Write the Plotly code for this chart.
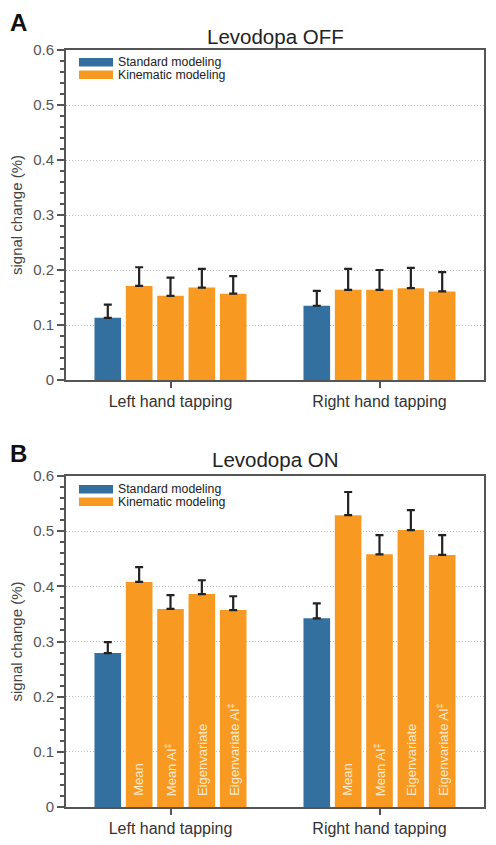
import plotly.graph_objects as go

groups = ["Left hand tapping", "Right hand tapping"]
series_names = ["Standard modeling", "Mean", "Mean AI‡", "Eigenvariate", "Eigenvariate AI‡"]
bar_labels = ["", "Mean", "Mean AI<sup>‡</sup>", "Eigenvariate", "Eigenvariate AI<sup>‡</sup>"]

# Levodopa OFF: values and upper error (top of whisker) per series, [left, right]
off_vals = [[0.113, 0.135], [0.171, 0.164], [0.153, 0.164], [0.168, 0.167], [0.157, 0.161]]
off_tops = [[0.137, 0.162], [0.205, 0.202], [0.186, 0.200], [0.202, 0.204], [0.189, 0.196]]
# Levodopa ON
on_vals = [[0.279, 0.342], [0.408, 0.529], [0.359, 0.458], [0.386, 0.502], [0.357, 0.457]]
on_tops = [[0.299, 0.369], [0.435, 0.571], [0.384, 0.493], [0.411, 0.538], [0.382, 0.493]]

titles = ["Levodopa OFF", "Levodopa ON"]
panel_letters = ["A", "B"]
yticks = [0, 0.1, 0.2, 0.3, 0.4, 0.5, 0.6]

BLUE = "#33709f"
ORANGE = "#f89a22"
OFF = 8  # page body margin
W, H = 496 - OFF, 845 - OFF
FONT = "Liberation Sans, Arial, Helvetica, sans-serif"

def px(x):
    return (x - OFF) / W

def py(y):
    return 1 - (y - OFF) / H

fig = go.Figure()
xpos = list(range(len(groups)))

panels = [(off_vals, off_tops, "x", "y"), (on_vals, on_tops, "x2", "y2")]
for p, (vals, tops, xa, ya) in enumerate(panels):
    for k in range(len(series_names)):
        color = BLUE if k == 0 else ORANGE
        fig.add_trace(go.Bar(
            x=xpos, y=vals[k], xaxis=xa, yaxis=ya,
            marker=dict(color=color, line=dict(width=0)),
            error_y=dict(type="data", symmetric=False,
                         array=[t - v for t, v in zip(tops[k], vals[k])],
                         arrayminus=[0] * len(groups),
                         color="#222222", thickness=2.2, width=4),
            name=series_names[k], offsetgroup=str(k), showlegend=False,
        ))

top_dom = [py(380), py(50)]
bot_dom = [py(807), py(476)]
xdom = [px(66), px(484)]

axis_common_x = dict(
    range=[-0.5, 1.5], tickvals=xpos, ticktext=groups, ticks="outside",
    ticklen=6, tickwidth=2, tickcolor="#555", showline=True, linecolor="#555",
    linewidth=2, mirror=True, showgrid=False, zeroline=False, automargin=False,
    tickfont=dict(family=FONT, size=16, color="#333"), domain=xdom,
)
axis_common_y = dict(
    range=[0, 0.6], tickvals=yticks, ticktext=[str(v) if v else "0" for v in yticks],
    ticks="outside", ticklen=7, tickwidth=2, tickcolor="#555",
    minor=dict(dtick=0.02, ticks="outside", ticklen=4, tickwidth=1.5, tickcolor="#555", showgrid=False),
    showline=True, linecolor="#555", linewidth=2, mirror=True, automargin=False,
    showgrid=True, gridcolor="#bdbdbd", griddash="1px,2px", gridwidth=1, zeroline=False,
    tickfont=dict(family=FONT, size=15, color="#555"),
    title=dict(text="signal change (%)", font=dict(family=FONT, size=15, color="#444"), standoff=8),
)

fig.update_layout(
    template="none",
    width=W, height=H, margin=dict(l=0, r=0, t=0, b=0, autoexpand=False),
    paper_bgcolor="white", plot_bgcolor="white",
    barmode="group", bargap=0.25, bargroupgap=0.15,
    showlegend=False,
    xaxis=dict(axis_common_x, anchor="y"),
    yaxis=dict(axis_common_y, domain=top_dom, anchor="x"),
    xaxis2=dict(axis_common_x, anchor="y2"),
    yaxis2=dict(axis_common_y, domain=bot_dom, anchor="x2"),
)

annotations = []
shapes = []
title_y = [36, 459]
letter_top = [8, 439]
legend_top = [58, 485]
for p in range(2):
    annotations.append(dict(text=titles[p], x=px(275), y=py(title_y[p]), xref="paper", yref="paper",
                            xanchor="center", yanchor="middle", showarrow=False,
                            font=dict(family=FONT, size=20.5, color="#222")))
    annotations.append(dict(text="<b>" + panel_letters[p] + "</b>", x=px(18), y=py(letter_top[p]),
                            xref="paper", yref="paper", xanchor="center", yanchor="top",
                            borderpad=0, showarrow=False, font=dict(family=FONT, size=24, color="#111")))
    for j, (name, col) in enumerate([("Standard modeling", BLUE), ("Kinematic modeling", ORANGE)]):
        y0 = legend_top[p] + j * 12.5
        shapes.append(dict(type="rect", xref="paper", yref="paper",
                           x0=px(79), x1=px(113), y0=py(y0), y1=py(y0 + 8.5),
                           fillcolor=col, line=dict(width=0)))
        annotations.append(dict(text=name, x=px(116), y=py(y0 + 4.3), xref="paper", yref="paper",
                                xanchor="left", yanchor="middle", showarrow=False,
                                font=dict(family=FONT, size=12.3, color="#222")))

for g in xpos:
    for k in range(1, len(series_names)):
        annotations.append(dict(text=bar_labels[k], x=g + (k - 2) * 0.15, y=0.016,
                                xref="x2", yref="y2", textangle=-90,
                                xanchor="center", yanchor="bottom", showarrow=False,
                                font=dict(family=FONT, size=13, color="#fde9cc")))

fig.update_layout(annotations=annotations, shapes=shapes)
fig.write_html("out.html")
